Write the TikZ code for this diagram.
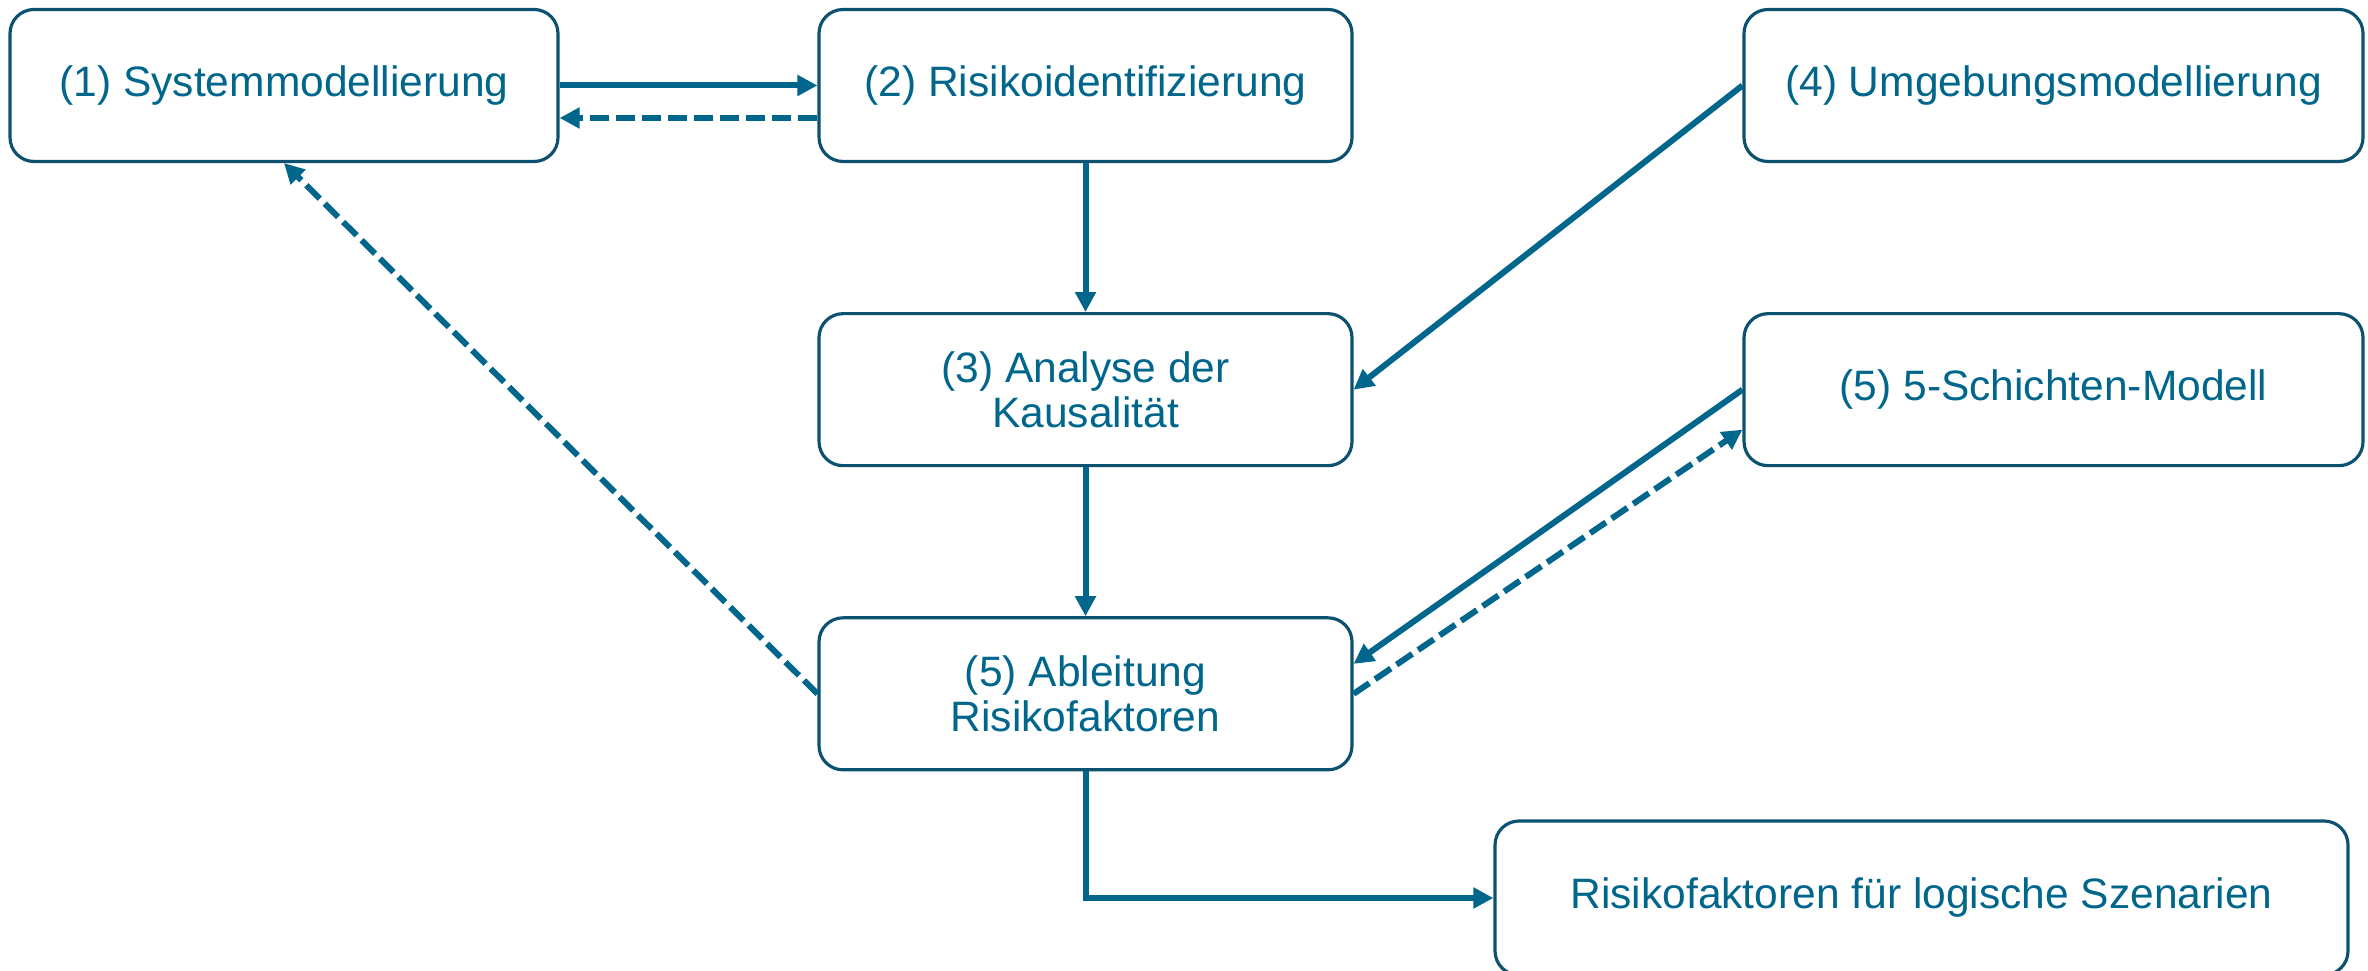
\documentclass[tikz,border=0pt]{standalone}
\usepackage{fontspec}
\setmainfont{Liberation Sans}
\usepackage{xcolor}
\usetikzlibrary{arrows.meta,positioning}

\definecolor{flowblue}{RGB}{0,102,140}
\definecolor{frameblue}{RGB}{12,82,112}

\begin{document}
\begin{tikzpicture}[
  box/.style={draw=frameblue,line width=0.9pt,rounded corners=0.24cm,fill=white,
    text=flowblue,align=center,inner sep=0pt,minimum height=1.52cm,
    font=\fontsize{12.1}{12.8}\selectfont},
  arr/.style={-{Triangle[length=0.2cm,width=0.2cm]},line width=0.06cm,color=flowblue},
  back/.style={arr,dash pattern=on 0.19cm off 0.07cm}
]
\useasboundingbox (0,0) rectangle (23.68,-9.71);
\node[box,minimum width=5.48cm] (sys) at (2.84,-0.855) {(1) Systemmodellierung};
\node[box,minimum width=5.33cm] (risk) at (10.855,-0.855) {(2) Risikoidentifizierung};
\node[box,minimum width=5.33cm,below=1.49cm of risk] (kaus) {(3) Analyse der\\Kausalität};
\node[box,minimum width=5.33cm,below=1.49cm of kaus] (ableit) {(5) Ableitung\\Risikofaktoren};
\node[box,minimum width=6.19cm] (umg) at (20.535,-0.855) {(4) Umgebungsmodellierung};
\node[box,minimum width=6.19cm,below=1.49cm of umg] (schicht) {(5) 5-Schichten-Modell};
\node[box,minimum width=8.53cm,minimum height=1.54cm] (ergeb) at (19.215,-8.98) {Risikofaktoren für logische Szenarien};

\draw[arr] (sys.east) -- (risk.west);
\draw[back] ([yshift=-0.325cm]risk.west) -- ([yshift=-0.325cm]sys.east);
\draw[arr] (risk) -- (kaus);
\draw[arr] (kaus) -- (ableit);
\draw[arr] (umg.west) -- (kaus.east);
\draw[arr] (schicht.west) -- ([yshift=0.3cm]ableit.east);
\draw[back] (ableit.east) -- ([yshift=-0.4cm]schicht.west);
\draw[back] (ableit.west) -- (sys.south);
\draw[arr] (ableit.south) |- (ergeb.west);
\end{tikzpicture}
\end{document}
